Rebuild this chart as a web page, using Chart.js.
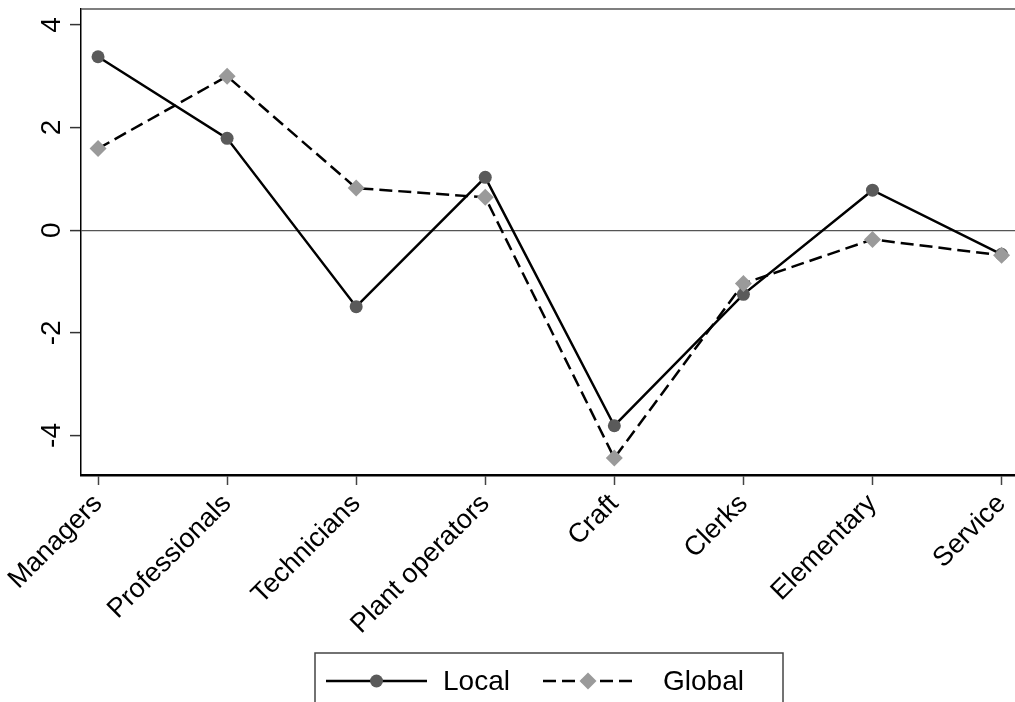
<!DOCTYPE html>
<html>
<head>
<meta charset="utf-8">
<script src="https://cdn.jsdelivr.net/npm/chart.js@4"></script>
<style>html,body{margin:0;background:#fff;overflow:hidden}canvas{display:block}</style>
</head>
<body>
<canvas id="myChart" width="1044" height="702"></canvas>
<script>
const categories = ["Managers", "Professionals", "Technicians", "Plant operators", "Craft", "Clerks", "Elementary", "Service"];
const localValues = [3.38, 1.79, -1.49, 1.03, -3.81, -1.25, 0.78, -0.47];
const globalValues = [1.59, 3.0, 0.82, 0.64, -4.44, -1.04, -0.18, -0.49];
const yTicks = [-4, -2, 0, 2, 4];
const seriesNames = ["Local", "Global"];

const fontFamily = '"Liberation Sans", Arial, sans-serif';
const fontSize = 27;

const ctx = document.getElementById("myChart").getContext("2d");

// frame top line, rotated y labels and the boxed legend
const extras = {
  id: "extras",
  afterDraw(chart) {
    const c = chart.ctx;
    const a = chart.chartArea;
    const y = chart.scales.y;
    c.save();
    c.strokeStyle = "#555";
    c.lineWidth = 1.5;
    c.beginPath();
    c.moveTo(a.left, a.top);
    c.lineTo(a.right, a.top);
    c.stroke();

    c.fillStyle = "#000";
    c.font = "28px " + fontFamily;
    c.textAlign = "center";
    c.textBaseline = "alphabetic";
    yTicks.forEach(v => {
      c.save();
      c.translate(60, y.getPixelForValue(v));
      c.rotate(-Math.PI / 2);
      c.fillText(String(v), 0, 0);
      c.restore();
    });

    // legend
    c.strokeStyle = "#444";
    c.lineWidth = 1.5;
    c.strokeRect(315, 653, 468, 80);
    const rowY = 681;
    const items = [
      { x0: 326, x1: 427, text: 443 },
      { x0: 543, x1: 633, text: 663 },
    ];
    chart.data.datasets.forEach((ds, i) => {
      const it = items[i];
      c.strokeStyle = ds.borderColor;
      c.lineWidth = ds.borderWidth;
      c.setLineDash(ds.borderDash || []);
      c.beginPath();
      c.moveTo(it.x0, rowY);
      c.lineTo(it.x1, rowY);
      c.stroke();
      c.setLineDash([]);
      c.fillStyle = ds.pointBackgroundColor;
      Chart.helpers.drawPoint(c, { pointStyle: ds.pointStyle, radius: ds.pointRadius, borderWidth: 0 }, (it.x0 + it.x1) / 2, rowY);
      c.fillStyle = "#000";
      c.textAlign = "left";
      c.textBaseline = "middle";
      c.fillText(seriesNames[i], it.text, rowY + 1);
    });
    c.restore();
  }
};

const chart = new Chart(ctx, {
  type: "line",
  data: {
    datasets: [
      {
        label: seriesNames[0],
        data: localValues.map((v, i) => ({ x: i, y: v })),
        borderColor: "#000",
        borderWidth: 2.5,
        pointStyle: "circle",
        pointRadius: 6.5,
        pointBackgroundColor: "#5a5a5a",
        pointBorderWidth: 0,
        order: 1,
      },
      {
        label: seriesNames[1],
        data: globalValues.map((v, i) => ({ x: i, y: v })),
        borderColor: "#000",
        borderWidth: 2.5,
        borderDash: [13, 6],
        pointStyle: "rectRot",
        pointRadius: 8.5,
        pointBackgroundColor: "#9a9a9a",
        pointBorderWidth: 0,
        order: 0,
      },
    ],
  },
  options: {
    responsive: false,
    animation: false,
    devicePixelRatio: 1,
    layout: { padding: { top: 9, left: 0, right: 0, bottom: 0 } },
    plugins: {
      legend: { display: false },
      tooltip: { enabled: false },
    },
    scales: {
      x: {
        type: "linear",
        min: -0.132,
        max: 7.263,
        afterBuildTicks: scale => { scale.ticks = categories.map((_, i) => ({ value: i })); },
        afterFit: scale => {
          scale.height = 227;
          scale.paddingLeft = 0;
          scale.paddingRight = 0;
        },
        grid: { drawOnChartArea: false, tickLength: 10, tickColor: "#444", tickWidth: 1.5 },
        border: { color: "#000", width: 2.5 },
        ticks: {
          autoSkip: false,
          minRotation: 45,
          maxRotation: 45,
          padding: 3,
          color: "#000",
          font: { family: fontFamily, size: fontSize },
          callback: v => categories[v],
        },
      },
      y: {
        type: "linear",
        min: -4.77,
        max: 4.31,
        afterBuildTicks: scale => { scale.ticks = yTicks.map(v => ({ value: v })); },
        afterFit: scale => { scale.width = 81; },
        grid: {
          tickLength: 11,
          tickColor: "#333",
          tickWidth: 1.5,
          color: c => (c.tick && c.tick.value === 0 ? "#555" : "rgba(0,0,0,0)"),
          lineWidth: 1.2,
        },
        border: { color: "#000", width: 1.5 },
        ticks: { display: false },
      },
    },
  },
  plugins: [extras],
});
</script>
</body>
</html>
